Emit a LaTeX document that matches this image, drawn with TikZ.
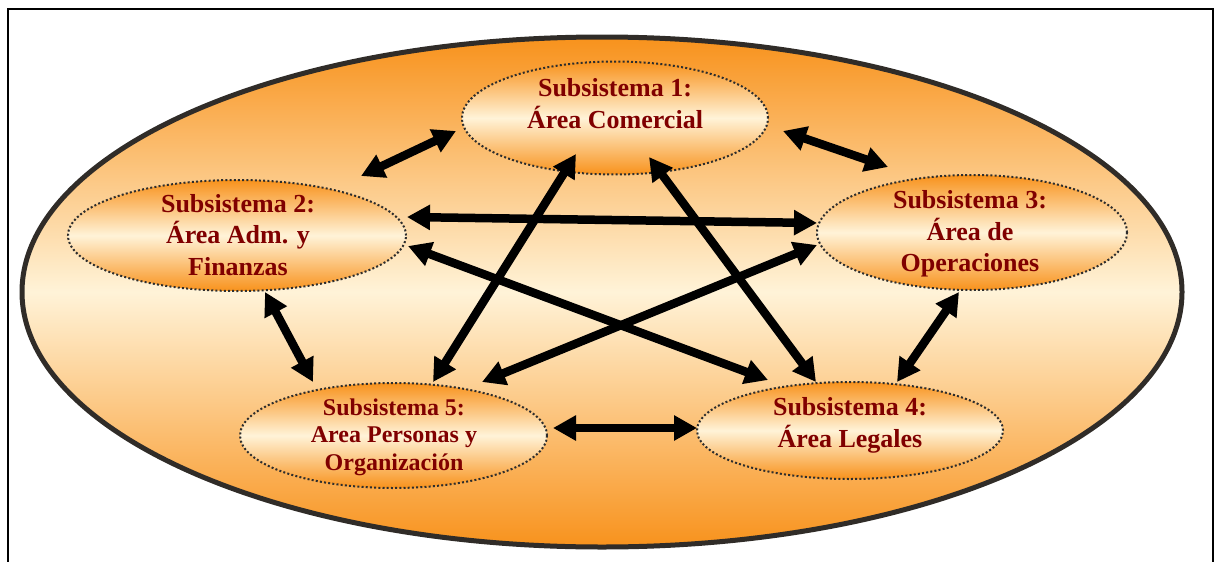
\documentclass[tikz,border=0pt]{standalone}
\usepackage{fontspec}
\setmainfont{Liberation Serif}
\usetikzlibrary{arrows.meta,shapes.geometric}

\definecolor{orng}{RGB}{248,146,28}
\definecolor{cream}{RGB}{255,243,216}
\definecolor{maroon}{RGB}{128,0,0}
\definecolor{rim}{RGB}{48,44,40}
\definecolor{dots}{RGB}{45,45,45}

\begin{document}
\begin{tikzpicture}[x=1pt,y=-1pt,
  outer/.style={ellipse, draw=rim, line width=5pt, inner sep=0pt,
    top color=orng, bottom color=orng, middle color=cream},
  subsys/.style={ellipse, draw=dots, line width=2pt,
    dash pattern=on 2pt off 2.2pt, inner sep=0pt,
    top color=orng, bottom color=orng, middle color=cream},
  subtext/.style={text=maroon, align=center, inner sep=0pt,
    font=\bfseries\fontsize{26}{31.5}\selectfont},
  smalltext/.style={subtext, font=\bfseries\fontsize{24}{27.5}\selectfont},
  link/.style={line width=8.5pt,
    {Triangle[length=23pt,width=24pt]}-{Triangle[length=23pt,width=24pt]}}
]
\useasboundingbox (0,0) rectangle (1215,562);
\clip (0,0) rectangle (1215,562);

% page frame
\draw[line width=2pt] (8,9) rectangle (1213,620);

% enclosing system
\node[outer, minimum width=1160pt, minimum height=510pt] (sys) at (602,292) {};

% subsystems
\node[subsys, minimum width=306pt, minimum height=113pt] (s1) at (615,118) {};
\node[subsys, minimum width=338pt, minimum height=111pt] (s2) at (237,235.5) {};
\node[subsys, minimum width=310pt, minimum height=115pt] (s3) at (972,232.5) {};
\node[subsys, minimum width=306pt, minimum height=97pt] (s4) at (850,430.5) {};
\node[subsys, minimum width=307pt, minimum height=105pt] (s5) at (393.5,435.5) {};

\node[subtext] (t1) at (615,103.5) {Subsistema 1:\\Área Comercial};
\node[subtext] (t2) at (238,235) {Subsistema 2:\\Área Adm. y\\Finanzas};
\node[subtext] (t3) at (970,234) {Subsistema 3:\\Área de\\Operaciones};
\node[subtext] (t4) at (850,425.5) {Subsistema 4:\\Área Legales};
\node[smalltext] (t5) at (394,437) {Subsistema 5:\\Area Personas y\\Organización};

% arrow ends
\coordinate (a12) at (456,131);  \coordinate (a21) at (361,176);
\coordinate (a13) at (783,131);  \coordinate (a31) at (888,167);
\coordinate (a23) at (407,217);  \coordinate (a32) at (817,223);
\coordinate (a24) at (408,246);  \coordinate (a42) at (768,380);
\coordinate (a35) at (817,245);  \coordinate (a53) at (482,382);
\coordinate (a15) at (576,154);  \coordinate (a51) at (433,382);
\coordinate (a14) at (649,157);  \coordinate (a41) at (816,382);
\coordinate (a25) at (265,292);  \coordinate (a52) at (313,382);
\coordinate (a34) at (959,292);  \coordinate (a43) at (897,382);
\coordinate (a54) at (553,428);  \coordinate (a45) at (697,428);

% relations between subsystems
\draw[link] (a21) -- (a12);
\draw[link] (a13) -- (a31);
\draw[link] (a23) -- (a32);
\draw[link] (a24) -- (a42);
\draw[link] (a53) -- (a35);
\draw[link] (a51) -- (a15);
\draw[link] (a14) -- (a41);
\draw[link] (a25) -- (a52);
\draw[link] (a43) -- (a34);
\draw[link] (a54) -- (a45);
\end{tikzpicture}
\end{document}
